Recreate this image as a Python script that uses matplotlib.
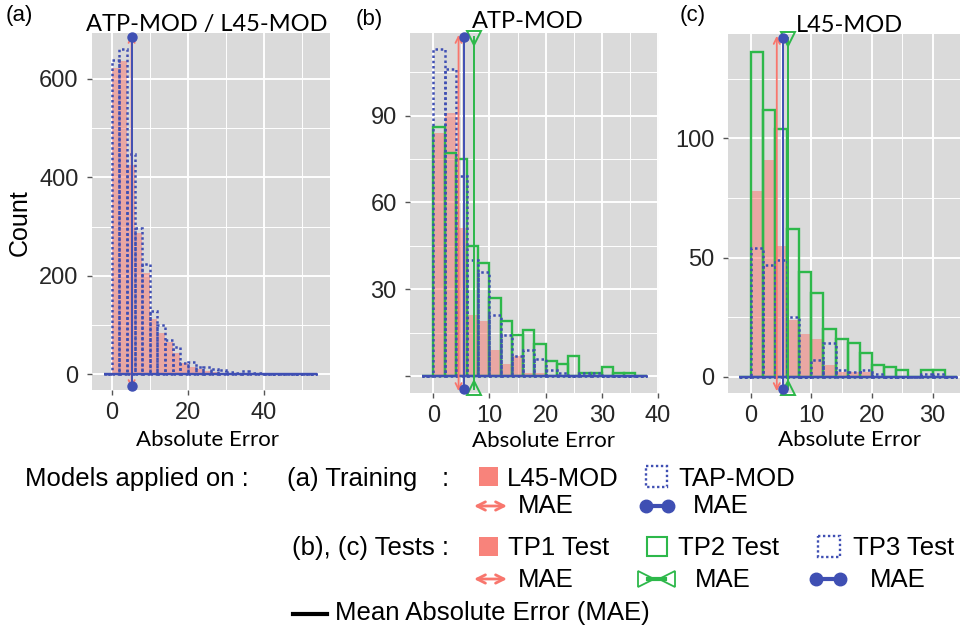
import numpy as np
import matplotlib
matplotlib.use("Agg")
import matplotlib.pyplot as plt
from matplotlib.patches import Rectangle

# bin width 2, first bin starts at -2 (empty)
BIN_W = 2
BIN_START = -2

# (a) training set
train_l45 = [0, 622, 637, 424, 287, 205, 112, 83, 65, 43, 22, 15, 10, 7, 5, 3, 3, 1, 2, 1,
             1, 1, 1, 0, 0, 1, 0, 0]
train_tap = [0, 639, 661, 447, 297, 223, 128, 100, 69, 55, 22, 25, 15, 14, 10, 8, 5, 3, 6, 2,
             2, 1, 1, 1, 1, 1, 1, 0]
mae_a = {"l45": 5.2, "tap": 5.2}

# (b) ATP-MOD on test sets
b_tp1 = [0, 84, 91, 51, 21, 19, 9, 4, 7, 1, 1, 0, 0, 0, 0, 0, 0, 0, 0, 0]
b_tp2 = [0, 86, 77, 75, 45, 39, 27, 19, 14, 16, 11, 5, 4, 7, 1, 1, 3, 1, 1, 0]
b_tp3 = [0, 113, 106, 69, 40, 36, 21, 14, 7, 9, 6, 2, 1, 0, 1, 1, 0, 0, 0, 0]
mae_b = {"tp1": 4.5, "tp2": 7.3, "tp3": 5.4}

# (c) L45-MOD on test sets
c_tp1 = [0, 78, 91, 55, 24, 18, 16, 5, 2, 2, 2, 0, 0, 0, 0, 0, 0, 0]
c_tp2 = [0, 136, 112, 104, 62, 44, 35, 20, 16, 14, 10, 5, 4, 3, 0, 3, 3, 0]
c_tp3 = [0, 54, 47, 49, 25, 0, 7, 14, 3, 2, 3, 1, 0, 0, 0, 1, 1, 0]
mae_c = {"tp1": 4.3, "tp2": 6.1, "tp3": 5.3}

RED = "#F8766D"
BLUE = "#3F4FB3"
GREEN = "#2DB84A"
BG = "#DADADA"
DOT = (0, (1, 1.1))

W, H = 960, 625
fig = plt.figure(figsize=(9.6, 6.25), dpi=100)


def px_axes(l, t, r, b):
    return fig.add_axes([l / W, 1 - b / H, (r - l) / W, (b - t) / H])


def style(ax, xlim, ylim, xmaj, xmin, ymaj, ymin):
    ax.set_facecolor(BG)
    ax.set_xlim(*xlim)
    ax.set_ylim(*ylim)
    ax.set_xticks(xmaj)
    ax.set_xticks(xmin, minor=True)
    ax.set_yticks(ymaj)
    ax.set_yticks(ymin, minor=True)
    ax.set_axisbelow(True)
    ax.grid(which="major", color="white", lw=1.4)
    ax.grid(which="minor", color="white", lw=0.7)
    for s in ax.spines.values():
        s.set_visible(False)
    ax.tick_params(which="major", length=3.6, width=1, color="#555555",
                   labelsize=17, labelcolor="#262626", pad=5)
    ax.tick_params(axis="y", pad=6)
    ax.tick_params(which="minor", length=0)


def edges(counts):
    return BIN_START + BIN_W * np.arange(len(counts))


def fill_hist(ax, counts):
    ax.bar(edges(counts), counts, width=BIN_W, align="edge", color=RED, alpha=0.5, lw=0)


def green_hist(ax, counts):
    ax.bar(edges(counts), counts, width=BIN_W, align="edge", fill=False,
           edgecolor=GREEN, lw=1.7)


def dotted_hist(ax, counts):
    e = edges(counts)
    ax.bar(e, counts, width=BIN_W, align="edge", fill=False,
           edgecolor=BLUE, lw=1.8, linestyle=DOT)
    ax.hlines(0, e[0], e[-1] + BIN_W, color=BLUE, lw=1.7)


def mae_arrow(ax, x):
    tr = ax.get_xaxis_transform()
    ax.annotate("", xy=(x, 0.995), xytext=(x, 0.005), xycoords=tr, textcoords=tr,
                arrowprops=dict(arrowstyle="<->", color=RED, lw=1.3,
                                shrinkA=0, shrinkB=0, mutation_scale=11))


def mae_dot(ax, x):
    ax.plot([x, x], [0.012, 0.99], transform=ax.get_xaxis_transform(), color=BLUE,
            lw=1.4, marker="o", ms=6.5, clip_on=False, zorder=5)


def mae_tri(ax, x):
    tr = ax.get_xaxis_transform()
    ax.plot([x, x], [0.012, 0.988], transform=tr, color=GREEN, lw=1.4, zorder=4)
    ax.plot([x], [0.986], transform=tr, marker="v", ms=10, mfc="none", mec=GREEN,
            mew=1.4, clip_on=False, zorder=4)
    ax.plot([x], [0.014], transform=tr, marker="^", ms=10, mfc="none", mec=GREEN,
            mew=1.4, clip_on=False, zorder=4)


# (a)
ax_a = px_axes(92, 33, 330, 390)
style(ax_a, (-5.2, 57.3), (-32, 693), [0, 20, 40], [10, 30, 50],
      [0, 200, 400, 600], [100, 300, 500])
fill_hist(ax_a, train_l45)
dotted_hist(ax_a, train_tap)
mae_arrow(ax_a, mae_a["l45"])
mae_dot(ax_a, mae_a["tap"])

# (b)
ax_b = px_axes(410, 33, 659, 393)
style(ax_b, (-4.15, 40.2), (-5.9, 118.6), [0, 10, 20, 30, 40], [5, 15, 25, 35],
      [0, 30, 60, 90], [15, 45, 75, 105])
ax_b.set_yticklabels(["", "30", "60", "90"])
fill_hist(ax_b, b_tp1)
green_hist(ax_b, b_tp2)
dotted_hist(ax_b, b_tp3)
mae_arrow(ax_b, mae_b["tp1"])
mae_tri(ax_b, mae_b["tp2"])
mae_dot(ax_b, mae_b["tp3"])

# (c)
ax_c = px_axes(728, 34, 960, 393)
style(ax_c, (-3.74, 34.5), (-6.8, 143.7), [0, 10, 20, 30], [5, 15, 25],
      [0, 50, 100], [25, 75, 125])
fill_hist(ax_c, c_tp1)
green_hist(ax_c, c_tp2)
dotted_hist(ax_c, c_tp3)
mae_arrow(ax_c, mae_c["tp1"])
mae_tri(ax_c, mae_c["tp2"])
mae_dot(ax_c, mae_c["tp3"])

for ax in (ax_a, ax_b, ax_c):
    for lab in ax.get_xticklabels() + ax.get_yticklabels():
        lab.set_fontfamily("Liberation Sans")

# overlay in pixel coordinates for titles and legend
lg = fig.add_axes([0, 0, 1, 1], zorder=-1)
lg.set_xlim(0, W)
lg.set_ylim(H, 0)
lg.axis("off")

ttl = dict(family="Lato", fontsize=17, ha="center", va="baseline")
pl = dict(family="Liberation Sans", fontsize=16, ha="center", va="center")
lg.text(19, 16, "(a)", **pl)
lg.text(369, 20, "(b)", **pl)
lg.text(693, 15, "(c)", **pl)
lg.text(207, 31, "ATP-MOD / L45-MOD", **ttl)
lg.text(528, 28, "ATP-MOD", **ttl)
lg.text(849, 32, "L45-MOD", **ttl)
xl = dict(family="Lato", fontsize=16, ha="center", va="baseline")
lg.text(208, 446, "Absolute Error", **xl)
lg.text(544, 447, "Absolute Error", **xl)
lg.text(849, 446, "Absolute Error", **xl)
lg.text(20, 223, "Count", family="Liberation Sans", fontsize=18, rotation=90,
        ha="center", va="center")

lt = dict(family="Liberation Sans", fontsize=18.5, ha="left", va="baseline")
lg.text(25, 486, "Models applied on :", **lt)
lg.text(287, 486, "(a) Training", **lt)
lg.text(442, 486, ":", **lt)
lg.text(292, 555, "(b), (c) Tests :", **lt)

lg.add_patch(Rectangle((479, 467), 19, 19, color=RED, alpha=0.9, lw=0))
lg.text(507, 486, "L45-MOD", **lt)
lg.add_patch(Rectangle((646, 466), 21, 21, fill=False, edgecolor=BLUE, lw=1.7, linestyle=DOT))
lg.text(678, 486, "TAP-MOD", **lt)

lg.add_patch(Rectangle((479, 537), 19, 19, color=RED, alpha=0.9, lw=0))
lg.text(508, 555, "TP1 Test", **lt)
lg.add_patch(Rectangle((647, 537), 20, 19, fill=False, edgecolor=GREEN, lw=1.5))
lg.text(678, 555, "TP2 Test", **lt)
lg.add_patch(Rectangle((818, 536), 22, 21, fill=False, edgecolor=BLUE, lw=1.7, linestyle=DOT))
lg.text(853, 555, "TP3 Test", **lt)


def leg_arrow(x0, x1, y):
    lg.annotate("", xy=(x1, y), xytext=(x0, y),
                arrowprops=dict(arrowstyle="<->", color=RED, lw=2,
                                shrinkA=0, shrinkB=0, mutation_scale=15))


def leg_dumbbell(x0, x1, y):
    lg.plot([x0 + 5, x1 - 5], [y, y], color=BLUE, lw=3, marker="o", ms=9)


def leg_bowtie(x0, x1, y):
    lg.plot([x0 + 8, x1 - 8], [y, y], color=GREEN, lw=3)
    lg.plot([x0 + 6], [y], marker=">", ms=11, mfc="none", mec=GREEN, mew=1.3)
    lg.plot([x1 - 6], [y], marker="<", ms=11, mfc="none", mec=GREEN, mew=1.3)


leg_arrow(474, 507, 506)
lg.text(518, 513, "MAE", **lt)
leg_dumbbell(641, 673, 506)
lg.text(693, 513, "MAE", **lt)

leg_arrow(474, 507, 579)
lg.text(518, 587, "MAE", **lt)
leg_bowtie(640, 673, 579)
lg.text(695, 587, "MAE", **lt)
leg_dumbbell(811, 845, 579)
lg.text(870, 587, "MAE", **lt)

lg.plot([293, 327], [614, 614], color="black", lw=3)
lg.text(335, 620, "Mean Absolute Error (MAE)", **lt)

fig.savefig("out.png", dpi=100)
